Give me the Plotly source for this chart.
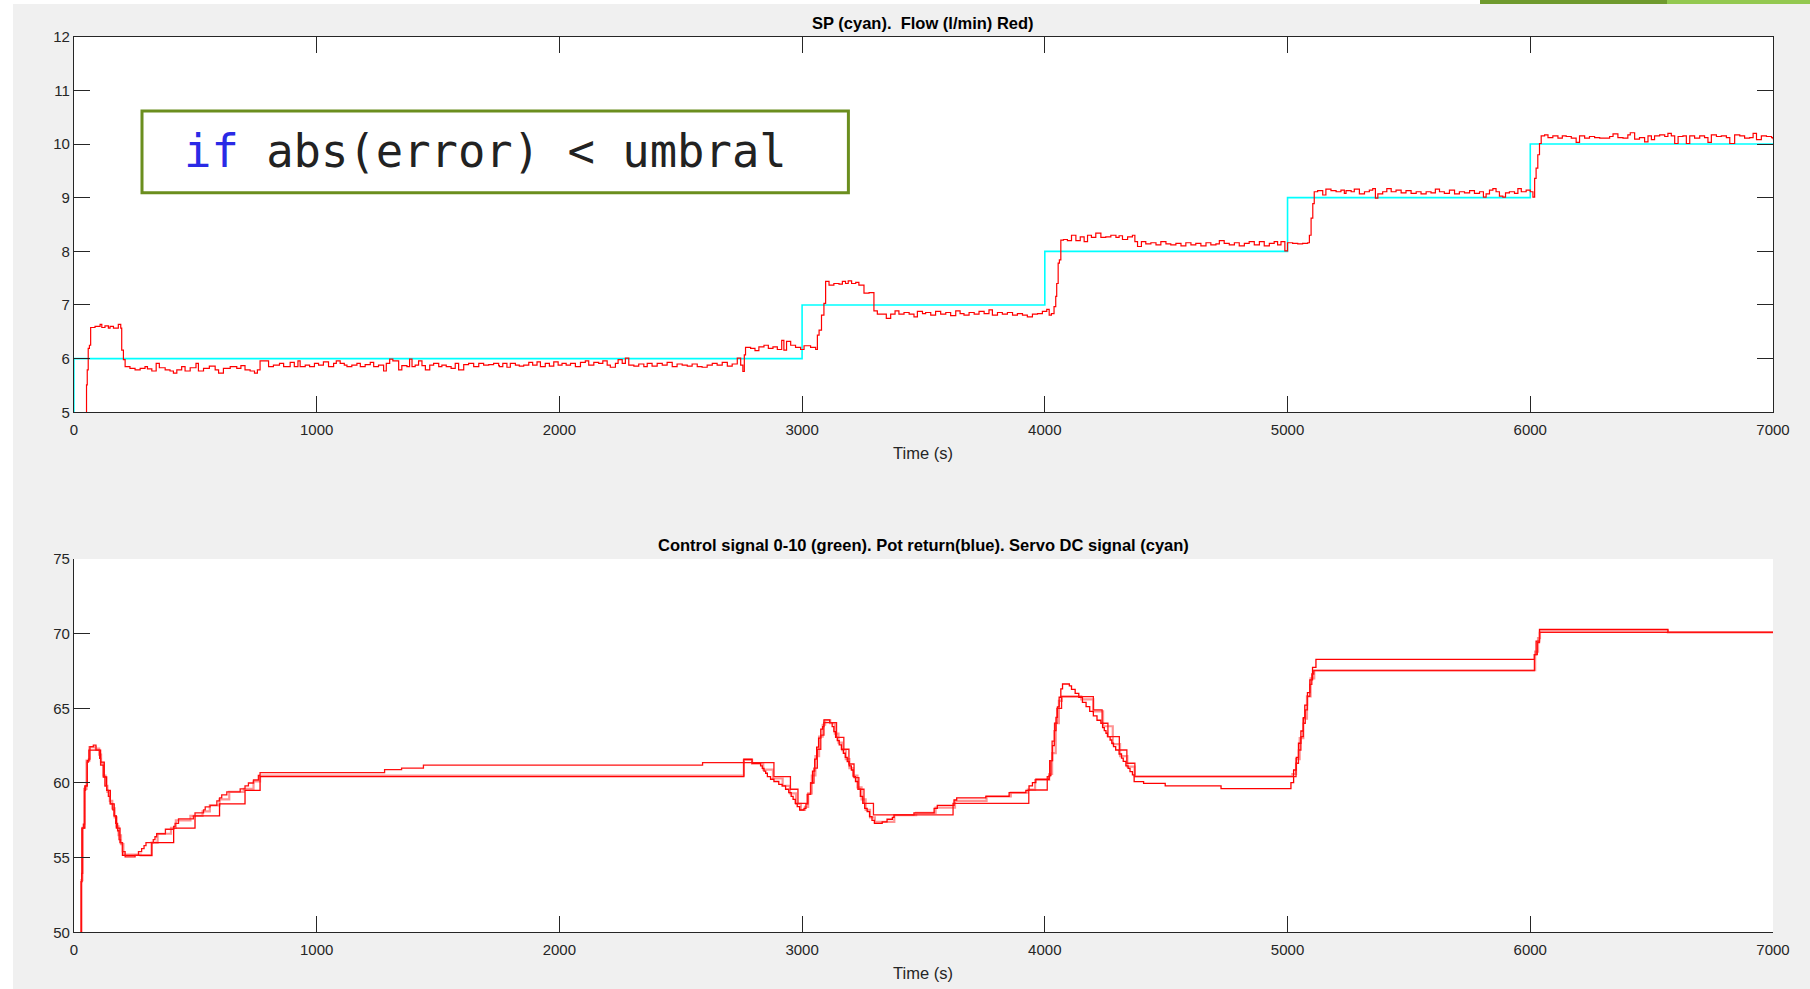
import plotly.graph_objects as go

W, H = 1810, 989

# ---------------- data: top panel ----------------
sp_t = [0, 0, 3000, 4000, 5000, 6000, 7000]
sp_v = [5, 6, 7, 8, 9, 10, 10]

flow_t = [50, 52, 55, 59, 64, 69, 87, 108, 115, 128, 142, 149, 163, 183, 193, 197, 204, 211,
          231, 252, 273, 293, 303, 321, 339, 352, 376, 396, 410, 424, 444, 458, 479, 503, 513, 534,
          558, 582, 596, 616, 644, 671, 688, 705, 726, 744, 756, 767, 781, 802, 822, 847, 864, 891,
          908, 923, 932, 953, 971, 991, 1008, 1028, 1049, 1070, 1081, 1097, 1114, 1125, 1145, 1166,
          1180, 1200, 1221, 1235, 1255, 1276, 1287, 1301, 1314, 1338, 1351, 1372, 1383, 1393, 1406,
          1420, 1434, 1448, 1466, 1482, 1503, 1516, 1534, 1554, 1571, 1585, 1606, 1626, 1647, 1668,
          1688, 1709, 1729, 1750,
          1753, 1767, 1784, 1798, 1819, 1835, 1853, 1874, 1890, 1908, 1922, 1942, 1959, 1977, 1995,
          2011, 2028, 2046, 2066, 2087, 2107, 2121, 2142, 2162, 2179, 2197, 2210, 2231, 2242, 2259,
          2272, 2286, 2307, 2327, 2348, 2362, 2382, 2403, 2424, 2444, 2465, 2485, 2506, 2527, 2547,
          2568, 2588, 2609, 2630, 2650, 2671, 2692, 2712, 2733, 2747, 2756, 2762, 2767, 2788, 2806,
          2822, 2843, 2861, 2880, 2898, 2916, 2925, 2936, 2953, 2973, 2994, 3008, 3035, 3056, 3063,
          3070, 3080, 3090, 3097, 3111, 3131, 3152, 3166, 3179, 3190, 3204, 3221, 3234, 3255, 3276,
          3296, 3310, 3331, 3347, 3365, 3383, 3399, 3420, 3441, 3461, 3475, 3496,
          3509, 3530, 3550, 3571, 3592, 3612, 3633, 3651, 3667, 3688, 3709, 3729, 3750, 3770, 3784,
          3805, 3825, 3846, 3867, 3887, 3908, 3928, 3949, 3970, 3990, 4008, 4018, 4027, 4038, 4045,
          4049, 4055, 4060, 4066, 4077, 4093, 4110, 4128, 4146, 4162, 4176, 4192, 4210, 4231, 4251,
          4272, 4293, 4306, 4320, 4341, 4361, 4371, 4382, 4398, 4416, 4437, 4458, 4478, 4499, 4519,
          4540, 4561, 4581, 4602, 4622, 4643, 4664, 4684, 4705, 4719, 4739, 4760, 4781, 4801, 4822,
          4842, 4863, 4884, 4904, 4925, 4945, 4959, 4973, 4989, 5000, 5021, 5042, 5062, 5083, 5090,
          5097, 5104, 5110, 5124, 5145, 5158, 5179, 5200, 5220, 5234,
          5241, 5262, 5275, 5296, 5317, 5337, 5351, 5362, 5372, 5392, 5409, 5427, 5447, 5468, 5488,
          5509, 5530, 5550, 5571, 5591, 5609, 5626, 5646, 5667, 5688, 5708, 5729, 5750, 5770, 5791,
          5807, 5818, 5832, 5846, 5859, 5873, 5887, 5898, 5914, 5935, 5949, 5963, 5983, 6000, 6011,
          6018, 6024, 6031, 6038, 6045, 6059, 6073, 6093, 6114, 6132, 6148, 6169, 6189, 6203, 6224,
          6244, 6265, 6286, 6306, 6327, 6341, 6361, 6382, 6402, 6412, 6430, 6450, 6471, 6485, 6499,
          6512, 6533, 6554, 6567, 6581, 6595, 6609, 6629, 6643, 6657, 6677, 6698, 6718, 6732, 6746,
          6767, 6787, 6808, 6822, 6842, 6863, 6883, 6904, 6918, 6932, 6952, 6973, 6994, 7000]

flow_v = [5.0, 5.51, 5.79, 6.19, 6.25, 6.58, 6.60, 6.64, 6.58, 6.61, 6.57, 6.60, 6.57, 6.64, 6.57, 6.16, 5.98, 5.85,
          5.82, 5.79, 5.82, 5.85, 5.81, 5.77, 5.91, 5.83, 5.79, 5.77, 5.73, 5.79, 5.85, 5.77, 5.83, 5.91, 5.77, 5.82,
          5.86, 5.79, 5.73, 5.82, 5.85, 5.82, 5.87, 5.79, 5.77, 5.73, 5.79, 5.96, 5.96, 5.85, 5.88, 5.91, 5.85, 5.93,
          5.85, 5.96, 5.85, 5.88, 5.85, 5.91, 5.88, 5.94, 5.85, 5.91, 5.96, 5.91, 5.88, 5.85, 5.88, 5.91,
          5.85, 5.89, 5.93, 5.85, 5.88, 5.77, 5.91, 5.99, 5.96, 5.79, 5.87, 5.85, 5.99, 5.85, 5.88,
          5.96, 5.87, 5.79, 5.88, 5.91, 5.85, 5.88, 5.85, 5.82, 5.91, 5.79, 5.89, 5.91, 5.85, 5.91,
          5.88, 5.89, 5.91, 5.87,
          5.85, 5.91, 5.84, 5.91, 5.88, 5.86, 5.88, 5.93, 5.88, 5.94, 5.85, 5.91, 5.86, 5.94, 5.88,
          5.91, 5.88, 5.91, 5.85, 5.93, 5.96, 5.88, 5.93, 5.91, 5.96, 5.88, 5.84, 5.91, 5.98, 5.91,
          6.01, 5.88, 5.86, 5.90, 5.85, 5.91, 5.86, 5.91, 5.88, 5.93, 5.85, 5.90, 5.88, 5.86, 5.90,
          5.85, 5.84, 5.88, 5.91, 5.88, 5.93, 5.86, 5.90, 6.01, 5.88, 5.76, 6.07, 6.21, 6.19, 6.15,
          6.22, 6.25, 6.19, 6.22, 6.17, 6.34, 6.16, 6.32, 6.25, 6.21, 6.17, 6.24, 6.21, 6.17, 6.44,
          6.53, 6.81, 7.03, 7.44, 7.37, 7.40, 7.39, 7.44, 7.40, 7.45, 7.40, 7.42, 7.37, 7.22, 7.23,
          6.89, 6.83, 6.83, 6.75, 6.83, 6.89, 6.83, 6.86, 6.83, 6.78, 6.88, 6.84,
          6.86, 6.81, 6.88, 6.83, 6.86, 6.80, 6.89, 6.84, 6.81, 6.86, 6.83, 6.88, 6.84, 6.91, 6.81,
          6.86, 6.83, 6.86, 6.81, 6.84, 6.81, 6.78, 6.83, 6.84, 6.88, 6.92, 6.81, 6.84, 6.97, 7.16,
          7.40, 7.78, 7.84, 8.21, 8.22, 8.20, 8.30, 8.20, 8.27, 8.18, 8.30, 8.26, 8.34, 8.26, 8.27,
          8.30, 8.26, 8.29, 8.22, 8.27, 8.30, 8.18, 8.09, 8.18, 8.14, 8.16, 8.12, 8.18, 8.14, 8.12,
          8.15, 8.10, 8.16, 8.12, 8.15, 8.10, 8.16, 8.12, 8.14, 8.20, 8.15, 8.12, 8.16, 8.10, 8.15,
          8.18, 8.12, 8.18, 8.10, 8.15, 8.18, 8.12, 8.18, 8.01, 8.16, 8.15, 8.14, 8.15, 8.16, 8.30,
          8.62, 8.89, 9.11, 9.13, 9.05, 9.16, 9.13, 9.11, 9.14, 9.08,
          9.13, 9.11, 9.16, 9.07, 9.11, 9.14, 9.17, 8.99, 9.07, 9.11, 9.17, 9.11, 9.14, 9.09, 9.13,
          9.08, 9.11, 9.07, 9.11, 9.09, 9.16, 9.11, 9.08, 9.14, 9.07, 9.11, 9.09, 9.13, 9.08, 9.11,
          9.01, 9.07, 9.14, 9.17, 9.11, 9.03, 9.01, 9.09, 9.11, 9.08, 9.17, 9.11, 9.14, 9.11, 9.01,
          9.36, 9.55, 9.80, 10.01, 10.15, 10.17, 10.12, 10.15, 10.11, 10.15, 10.14, 10.11, 10.03, 10.15, 10.11,
          10.14, 10.12, 10.11, 10.11, 10.14, 10.19, 10.12, 10.11, 10.17, 10.21, 10.09, 10.12, 10.04, 10.15, 10.08,
          10.15, 10.17, 10.14, 10.20, 10.15, 10.01, 10.14, 10.15, 10.01, 10.15, 10.11, 10.15, 10.12, 10.03, 10.17,
          10.14, 10.15, 10.12, 10.01, 10.17, 10.15, 10.11, 10.12, 10.20, 10.08, 10.15, 10.14, 10.12, 10.09]

# ---------------- data: bottom panel ----------------
ctrl_t = [28, 30, 32, 36, 39, 44, 48, 55, 60, 66, 80, 91, 106, 110, 121, 128, 135, 142, 150, 160,
          166, 172, 180, 186, 192, 200, 211, 252, 266, 279, 289, 297, 327, 334, 341, 377, 411, 417,
          431, 492, 499, 534, 541, 561, 589, 600, 609, 630, 685, 705, 719, 740, 760, 767,
          1280, 1350, 1440, 2590, 2884, 2952, 2983, 3021, 3035, 3049, 3063, 3077, 3090, 3142, 3172,
          3193, 3214, 3234, 3255, 3294, 3622, 3934, 4010, 4020, 4030, 4040, 4050, 4069, 4200, 4236,
          4260, 4307, 4338, 4371, 5035, 5045, 5055, 5065, 5073, 5082, 5092, 5100, 5108, 6017, 6029,
          6038, 7000]
ctrl_v = [50, 53.4, 53.95, 56.97, 57.25, 59.5, 59.8, 61.4, 61.6, 62.43, 62.54, 62.2, 61.65, 61.2, 60.4,
          59.8, 59.5, 59.1, 58.6, 58.2, 57.8, 57.3, 56.8, 56.2, 56.0, 55.4, 55.05, 55.15, 55.4, 55.6,
          55.8, 56.0, 56.2, 56.4, 56.6, 56.9, 57.1, 57.3, 57.6, 57.8, 58.0, 58.2, 58.4, 58.5, 58.8,
          59.0, 59.2, 59.4, 59.6, 59.8, 60.0, 60.2, 60.5, 60.7,
          60.9, 61.0, 61.2, 61.36, 60.42, 59.58, 58.64, 59.24, 60.0, 61.0, 62.26, 63.2, 64.04, 63.06,
          62.26, 61.27, 60.36, 59.58, 58.64, 57.86, 58.64, 59.53, 60.42, 61.5, 62.8, 64.0, 65.0, 65.78,
          64.89, 64.0, 63.1, 62.21, 61.32, 60.42, 61.32, 62.21, 63.1, 64.0, 64.9, 65.8, 66.6, 67.3,
          67.52, 68.6, 69.4, 70.09, 70.09]

pot_t = [28, 31, 33, 45, 55, 62, 95, 110, 125, 135, 150, 166, 175, 190, 200, 321, 411, 499, 600,
         705, 767, 2760, 2794, 2829, 2836, 2843, 2850, 2857, 2870, 2884, 2904, 2918, 2932, 2945,
         2955, 2963, 2972, 2980, 2990, 3008, 3016, 3024, 3035, 3043, 3052, 3060, 3068, 3077, 3085,
         3090, 3114, 3124, 3131, 3138, 3145, 3153, 3162, 3170, 3178, 3186, 3194, 3203, 3211, 3220,
         3230, 3240, 3250, 3258, 3268, 3278, 3288, 3298, 3330, 3350, 3372, 3379, 3461, 3544, 3557,
         3626, 3637, 3757, 3853, 3922, 3935, 3949, 3963, 4018, 4025, 4032, 4039, 4046, 4052, 4059,
         4066, 4073, 4101, 4110, 4125, 4140, 4155, 4170, 4185, 4200, 4215, 4231, 4238, 4245, 4252,
         4258, 4269, 4276, 4283, 4292, 4306, 4316, 4323, 4334, 4343, 4351, 4361, 4368, 4407, 4496,
         4726, 5014, 5025, 5036, 5045, 5055, 5065, 5071, 5082, 5092, 5103, 5117, 6017, 6024, 6038,
         6567, 7000]
pot_v = [50, 53.4, 56.97, 59.8, 61.5, 62.2, 62.2, 61.4, 60.4, 59.5, 58.6, 57.8, 56.97, 56.0, 55.15,
         56.0, 56.97, 57.8, 58.6, 59.5, 60.42, 61.59, 61.32, 61.14, 60.98, 60.8, 60.65, 60.42, 60.25,
         60.1, 59.9, 59.8, 59.58, 59.35, 59.1, 58.9, 58.64, 58.41, 58.19, 58.3, 58.6, 59.24, 60.0,
         60.8, 61.6, 62.4, 63.0, 63.6, 63.77, 64.22, 64.04, 63.77, 63.44, 63.06, 62.83, 62.55, 62.26,
         61.99, 61.72, 61.43, 61.14, 60.87, 60.42, 60.1, 59.58, 59.1, 58.64, 58.3, 58.08, 57.75,
         57.5, 57.3, 57.4, 57.57, 57.7, 57.86, 58.0, 58.3, 58.5, 58.86, 59.0, 59.1, 59.35, 59.5,
         59.8, 60.02, 60.25, 60.5, 61.5, 62.5, 63.5, 64.4, 65.1, 65.74, 66.3, 66.63, 66.5, 66.27,
         66.0, 65.74, 65.4, 65.11, 64.8, 64.5, 64.2, 64.0, 63.71, 63.51, 63.33, 63.11, 62.88, 62.66,
         62.44, 62.21, 61.94, 61.67, 61.45, 61.14, 60.98, 60.76, 60.54, 60.09, 59.98, 59.80, 59.62,
         60.02, 60.87, 61.72, 62.66, 63.48, 64.37, 65.22, 66.05, 66.9, 67.74, 68.28, 68.6, 69.5,
         70.29, 70.09, 70.09]

servo_t = [28, 31, 35, 42, 52, 64, 90, 104, 112, 122, 130, 138, 148, 158, 168, 176, 184, 194, 204,
           275, 320, 345, 400, 420, 480, 530, 560, 600, 640, 700, 740, 767, 2760, 2794, 2840, 2880,
           2920, 2950, 2975, 2995, 3012, 3025, 3040, 3055, 3070, 3085, 3095, 3116, 3135, 3150, 3165,
           3180, 3195, 3210, 3228, 3245, 3262, 3280, 3300, 3380, 3470, 3550, 3630, 3760, 3860, 3930,
           3960, 4018, 4030, 4045, 4058, 4070, 4150, 4200, 4240, 4280, 4310, 4340, 4370, 5020, 5035,
           5050, 5065, 5080, 5095, 5110, 6020, 6032, 6040, 6567, 7000]
servo_v = [50, 53.5, 57.0, 59.6, 61.5, 62.4, 62.3, 61.9, 61.3, 60.5, 59.8, 59.4, 58.8, 58.3, 57.7,
           57.1, 56.5, 55.9, 55.2, 55.15, 56.0, 56.6, 57.0, 57.5, 57.8, 58.1, 58.5, 58.9, 59.4, 59.6,
           60.1, 60.5, 61.55, 61.3, 60.9, 60.3, 59.8, 59.3, 58.6, 58.2, 58.4, 59.3, 60.5, 61.8, 63.1,
           63.9, 64.2, 64.0, 63.3, 62.7, 62.2, 61.6, 61.0, 60.5, 59.7, 58.9, 58.2, 57.7, 57.4, 57.85,
           58.0, 58.35, 58.8, 59.1, 59.35, 59.55, 60.2, 60.6, 62.0, 64.0, 65.5, 65.8, 65.6, 64.8,
           63.8, 62.6, 61.8, 61.1, 60.45, 60.6, 61.6, 63.0, 64.3, 65.8, 67.0, 67.55, 68.8, 69.7,
           70.2, 70.09, 70.09]

x_ticks = [0, 1000, 2000, 3000, 4000, 5000, 6000, 7000]
y1_ticks = [5, 6, 7, 8, 9, 10, 11, 12]
y2_ticks = [50, 55, 60, 65, 70, 75]

title_top = "SP (cyan).\u00a0 Flow (l/min) Red)"
title_bot = "Control signal 0-10 (green). Pot return(blue). Servo DC signal (cyan)"
xlabel = "Time (s)"

# ---------------- figure ----------------
fig = go.Figure()
fig.add_trace(go.Scatter(x=sp_t, y=sp_v, mode="lines", line=dict(color="#00ffff", width=1.6, shape="hv"),
                         xaxis="x", yaxis="y", showlegend=False, hoverinfo="skip"))
fig.add_trace(go.Scatter(x=flow_t, y=flow_v, mode="lines", line=dict(color="#ff0000", width=1.2, shape="hv"),
                         xaxis="x", yaxis="y", showlegend=False, hoverinfo="skip"))
fig.add_trace(go.Scatter(x=servo_t, y=servo_v, mode="lines",
                         line=dict(color="rgba(255,60,60,0.55)", width=2.2, shape="hv"),
                         xaxis="x2", yaxis="y2", showlegend=False, hoverinfo="skip"))
fig.add_trace(go.Scatter(x=pot_t, y=pot_v, mode="lines", line=dict(color="#ff0000", width=1.3, shape="hv"),
                         xaxis="x2", yaxis="y2", showlegend=False, hoverinfo="skip"))
fig.add_trace(go.Scatter(x=ctrl_t, y=ctrl_v, mode="lines", line=dict(color="#ff1010", width=1.3, shape="hv"),
                         xaxis="x2", yaxis="y2", showlegend=False, hoverinfo="skip"))

axcol = "#262626"
tickfont = dict(family="Liberation Sans, Arial, sans-serif", size=15, color=axcol)
xdom = [73.9 / W, 1773 / W]
common_x = dict(range=[0, 7000], tickvals=x_ticks, ticktext=[str(v) for v in x_ticks],
                showgrid=False, zeroline=False, showline=True, linecolor=axcol, linewidth=1,
                ticks="inside", ticklen=16, tickwidth=1, tickcolor=axcol, tickfont=tickfont,
                ticklabelstandoff=4, domain=xdom, fixedrange=True, automargin=False)
common_y = dict(showgrid=False, zeroline=False, showline=True, linecolor=axcol, linewidth=1,
                ticks="inside", ticklen=16, tickwidth=1, tickcolor=axcol, tickfont=tickfont,
                fixedrange=True, automargin=False)

fig.update_layout(
    width=W, height=H,
    margin=dict(l=0, r=0, t=0, b=0, pad=0),
    paper_bgcolor="#f0f0f0",
    plot_bgcolor="white",
    xaxis=dict(common_x, anchor="y", mirror="ticks"),
    yaxis=dict(common_y, range=[5, 12], tickvals=y1_ticks, ticktext=[str(v) for v in y1_ticks],
               domain=[1 - 412.3 / H, 1 - 36.7 / H], anchor="x", mirror="ticks"),
    xaxis2=dict(common_x, anchor="y2"),
    yaxis2=dict(common_y, range=[50, 75], tickvals=y2_ticks, ticktext=[str(v) for v in y2_ticks],
                domain=[1 - 932.3 / H, 1 - 559 / H], anchor="x2"),
)

# page frame: white strips at top/left, green strip top-right
fig.add_shape(type="rect", xref="paper", yref="paper", x0=0, x1=1, y0=1 - 4 / H, y1=1,
              fillcolor="white", line=dict(width=0), layer="below")
fig.add_shape(type="rect", xref="paper", yref="paper", x0=0, x1=13 / W, y0=0, y1=1,
              fillcolor="white", line=dict(width=0), layer="below")
fig.add_shape(type="rect", xref="paper", yref="paper", x0=1480 / W, x1=1667 / W, y0=1 - 4 / H, y1=1,
              fillcolor="#6f9a2e", line=dict(width=0), layer="below")
fig.add_shape(type="rect", xref="paper", yref="paper", x0=1667 / W, x1=1, y0=1 - 4 / H, y1=1,
              fillcolor="#93c850", line=dict(width=0), layer="below")

# code annotation box
fig.add_shape(type="rect", xref="paper", yref="paper", x0=142 / W, x1=848.4 / W,
              y0=1 - 192.7 / H, y1=1 - 111 / H, fillcolor="white",
              line=dict(color="#6b8e1e", width=3))
fig.add_annotation(xref="paper", yref="paper", x=182 / W, y=1 - 151 / H, xanchor="left", yanchor="middle",
                   showarrow=False,
                   text="<span style='color:#2a2ae6'>if</span> abs(error) &lt; umbral",
                   font=dict(family="DejaVu Sans Mono, monospace", size=45.5, color="#222222"))

titlefont = dict(family="Liberation Sans, Arial, sans-serif", size=16.5, color="#000000")
labelfont = dict(family="Liberation Sans, Arial, sans-serif", size=16.5, color=axcol)
xc = (73.9 + 1773) / 2 / W
fig.add_annotation(xref="paper", yref="paper", x=xc, y=1 - 22.7 / H, xanchor="center", yanchor="middle",
                   showarrow=False, text="<b>" + title_top + "</b>", font=titlefont)
fig.add_annotation(xref="paper", yref="paper", x=xc, y=1 - 544.5 / H, xanchor="center", yanchor="middle",
                   showarrow=False, text="<b>" + title_bot + "</b>", font=titlefont)
fig.add_annotation(xref="paper", yref="paper", x=xc, y=1 - 452.5 / H, xanchor="center", yanchor="middle",
                   showarrow=False, text=xlabel, font=labelfont)
fig.add_annotation(xref="paper", yref="paper", x=xc, y=1 - 972.5 / H, xanchor="center", yanchor="middle",
                   showarrow=False, text=xlabel, font=labelfont)

fig.write_html("out.html", config={"displayModeBar": False},
               post_script="document.body.style.margin='0';document.body.style.overflow='hidden';")
